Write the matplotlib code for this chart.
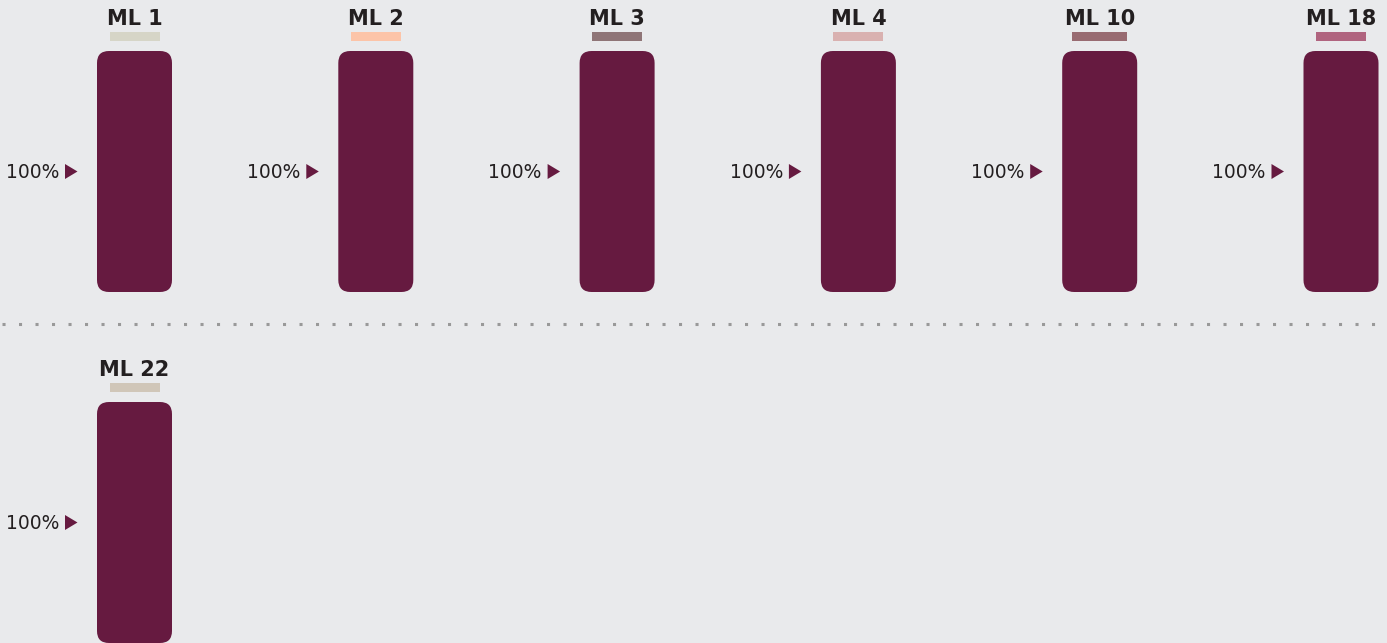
import matplotlib
matplotlib.use("Agg")
import matplotlib.pyplot as plt
from matplotlib.patches import FancyBboxPatch, Rectangle, Polygon

labels = ["ML 1", "ML 2", "ML 3", "ML 4", "ML 10", "ML 18", "ML 22"]
values = [100, 100, 100, 100, 100, 100, 100]
swatch_colors = ["#d6d5c7", "#fcc4a8", "#8f7577", "#d9b1b0", "#986b71", "#b0647f", "#d0c6b8"]
value_labels = ["100%", "100%", "100%", "100%", "100%", "100%", "100%"]

bar_color = "#661a40"
bg = "#e9eaec"

W, H = 1387, 643
fig = plt.figure(figsize=(W / 100, H / 100), dpi=100, facecolor=bg)
ax = fig.add_axes([0, 0, 1, 1])
ax.set_facecolor(bg)
ax.set_xlim(0, W)
ax.set_ylim(H, 0)
ax.axis("off")

per_row = 6
col_step = 241.3
row_step = 351
bar_w = 75
full_h = 241

for i, (lab, val, sc, vl) in enumerate(zip(labels, values, swatch_colors, value_labels)):
    col, row = i % per_row, i // per_row
    cx = 134.5 + col * col_step
    top = 51 + row * row_step
    bottom = top + full_h
    h = full_h * val / 100
    ax.add_patch(FancyBboxPatch((cx - bar_w / 2, bottom - h), bar_w, h,
                                boxstyle="round,pad=0,rounding_size=12",
                                fc=bar_color, ec="none"))
    ax.text(cx, top - 32, lab, ha="center", va="center", fontsize=15,
            fontweight="bold", color="#231f20")
    sw = 55 if lab == "ML 10" else 50
    ax.add_patch(Rectangle((cx - sw / 2, top - 19), sw, 9, fc=sc, ec="none"))
    my = bottom - h / 2
    ax.text(cx - 75.5, my + 1, vl, ha="right", va="center", fontsize=13.5,
            color="#231f20")
    tx = cx - 69.5
    ax.add_patch(Polygon([(tx, my - 7.5), (tx, my + 7.5), (tx + 12.5, my)],
                         closed=True, fc=bar_color, ec="none"))

# dotted separator between rows
ax.plot([2, W], [324, 324], linestyle=(0, (1, 4.4)), color="#999999",
        linewidth=2.2, dash_capstyle="butt")

fig.savefig("out.png", dpi=100, facecolor=bg)
